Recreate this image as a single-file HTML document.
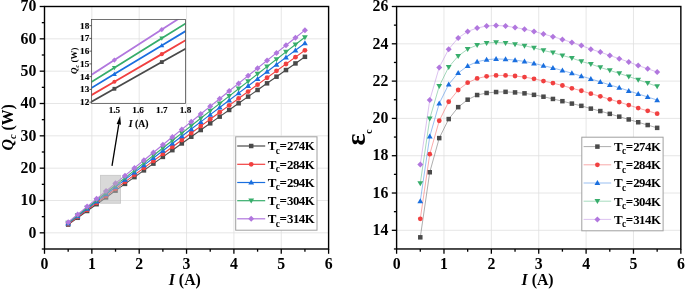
<!DOCTYPE html><html><head><meta charset="utf-8"><title>plot</title><style>html,body{margin:0;padding:0;background:#fff}svg{display:block}</style></head><body><svg width="685" height="290" viewBox="0 0 685 290">
<style>text{font-family:"Liberation Serif", "DejaVu Serif", serif;font-weight:bold;fill:#000}.tk{font-size:15.8px}.lg{font-size:13px;letter-spacing:-0.32px}.in{font-size:9.2px;stroke:#000;stroke-width:0.15px}</style>
<rect width="685" height="290" fill="#fff"/>
<line x1="91.85" x2="91.85" y1="6.5" y2="249.0" stroke="#dfdfdf" stroke-width="0.8"/>
<line x1="139.20" x2="139.20" y1="6.5" y2="249.0" stroke="#dfdfdf" stroke-width="0.8"/>
<line x1="186.55" x2="186.55" y1="6.5" y2="249.0" stroke="#dfdfdf" stroke-width="0.8"/>
<line x1="233.90" x2="233.90" y1="6.5" y2="249.0" stroke="#dfdfdf" stroke-width="0.8"/>
<line x1="281.25" x2="281.25" y1="6.5" y2="249.0" stroke="#dfdfdf" stroke-width="0.8"/>
<line y1="232.83" y2="232.83" x1="44.5" x2="328.6" stroke="#dfdfdf" stroke-width="0.8"/>
<line y1="200.50" y2="200.50" x1="44.5" x2="328.6" stroke="#dfdfdf" stroke-width="0.8"/>
<line y1="168.17" y2="168.17" x1="44.5" x2="328.6" stroke="#dfdfdf" stroke-width="0.8"/>
<line y1="135.83" y2="135.83" x1="44.5" x2="328.6" stroke="#dfdfdf" stroke-width="0.8"/>
<line y1="103.50" y2="103.50" x1="44.5" x2="328.6" stroke="#dfdfdf" stroke-width="0.8"/>
<line y1="71.17" y2="71.17" x1="44.5" x2="328.6" stroke="#dfdfdf" stroke-width="0.8"/>
<line y1="38.83" y2="38.83" x1="44.5" x2="328.6" stroke="#dfdfdf" stroke-width="0.8"/>
<polyline points="68.17,224.58 77.64,217.78 87.12,210.98 96.59,204.19 106.06,197.41 115.53,190.64 125.00,183.87 134.47,177.12 143.94,170.37 153.41,163.62 162.88,156.89 172.35,150.16 181.82,143.44 191.28,136.73 200.76,130.03 210.22,123.33 219.70,116.65 229.17,109.97 238.63,103.29 248.11,96.63 257.58,89.97 267.05,83.32 276.51,76.68 285.99,70.05 295.46,63.42 304.93,56.81" fill="none" stroke="#4a4a4a" stroke-width="1.15"/>
<rect x="65.92" y="222.33" width="4.50" height="4.50" fill="#4a4a4a"/>
<rect x="75.39" y="215.53" width="4.50" height="4.50" fill="#4a4a4a"/>
<rect x="84.87" y="208.73" width="4.50" height="4.50" fill="#4a4a4a"/>
<rect x="94.34" y="201.94" width="4.50" height="4.50" fill="#4a4a4a"/>
<rect x="103.81" y="195.16" width="4.50" height="4.50" fill="#4a4a4a"/>
<rect x="113.28" y="188.39" width="4.50" height="4.50" fill="#4a4a4a"/>
<rect x="122.75" y="181.62" width="4.50" height="4.50" fill="#4a4a4a"/>
<rect x="132.22" y="174.87" width="4.50" height="4.50" fill="#4a4a4a"/>
<rect x="141.69" y="168.12" width="4.50" height="4.50" fill="#4a4a4a"/>
<rect x="151.16" y="161.37" width="4.50" height="4.50" fill="#4a4a4a"/>
<rect x="160.62" y="154.64" width="4.50" height="4.50" fill="#4a4a4a"/>
<rect x="170.10" y="147.91" width="4.50" height="4.50" fill="#4a4a4a"/>
<rect x="179.57" y="141.19" width="4.50" height="4.50" fill="#4a4a4a"/>
<rect x="189.03" y="134.48" width="4.50" height="4.50" fill="#4a4a4a"/>
<rect x="198.51" y="127.78" width="4.50" height="4.50" fill="#4a4a4a"/>
<rect x="207.97" y="121.08" width="4.50" height="4.50" fill="#4a4a4a"/>
<rect x="217.45" y="114.40" width="4.50" height="4.50" fill="#4a4a4a"/>
<rect x="226.92" y="107.72" width="4.50" height="4.50" fill="#4a4a4a"/>
<rect x="236.38" y="101.04" width="4.50" height="4.50" fill="#4a4a4a"/>
<rect x="245.86" y="94.38" width="4.50" height="4.50" fill="#4a4a4a"/>
<rect x="255.33" y="87.72" width="4.50" height="4.50" fill="#4a4a4a"/>
<rect x="264.80" y="81.07" width="4.50" height="4.50" fill="#4a4a4a"/>
<rect x="274.26" y="74.43" width="4.50" height="4.50" fill="#4a4a4a"/>
<rect x="283.74" y="67.80" width="4.50" height="4.50" fill="#4a4a4a"/>
<rect x="293.21" y="61.17" width="4.50" height="4.50" fill="#4a4a4a"/>
<rect x="302.68" y="54.56" width="4.50" height="4.50" fill="#4a4a4a"/>
<polyline points="68.17,223.99 77.64,216.95 87.12,209.91 96.59,202.89 106.06,195.87 115.53,188.86 125.00,181.86 134.47,174.86 143.94,167.88 153.41,160.90 162.88,153.92 172.35,146.96 181.82,140.00 191.28,133.06 200.76,126.11 210.22,119.18 219.70,112.26 229.17,105.34 238.63,98.43 248.11,91.53 257.58,84.63 267.05,77.75 276.51,70.87 285.99,64.00 295.46,57.13 304.93,50.28" fill="none" stroke="#F14040" stroke-width="1.15"/>
<circle cx="68.17" cy="223.99" r="2.40" fill="#F14040"/>
<circle cx="77.64" cy="216.95" r="2.40" fill="#F14040"/>
<circle cx="87.12" cy="209.91" r="2.40" fill="#F14040"/>
<circle cx="96.59" cy="202.89" r="2.40" fill="#F14040"/>
<circle cx="106.06" cy="195.87" r="2.40" fill="#F14040"/>
<circle cx="115.53" cy="188.86" r="2.40" fill="#F14040"/>
<circle cx="125.00" cy="181.86" r="2.40" fill="#F14040"/>
<circle cx="134.47" cy="174.86" r="2.40" fill="#F14040"/>
<circle cx="143.94" cy="167.88" r="2.40" fill="#F14040"/>
<circle cx="153.41" cy="160.90" r="2.40" fill="#F14040"/>
<circle cx="162.88" cy="153.92" r="2.40" fill="#F14040"/>
<circle cx="172.35" cy="146.96" r="2.40" fill="#F14040"/>
<circle cx="181.82" cy="140.00" r="2.40" fill="#F14040"/>
<circle cx="191.28" cy="133.06" r="2.40" fill="#F14040"/>
<circle cx="200.76" cy="126.11" r="2.40" fill="#F14040"/>
<circle cx="210.22" cy="119.18" r="2.40" fill="#F14040"/>
<circle cx="219.70" cy="112.26" r="2.40" fill="#F14040"/>
<circle cx="229.17" cy="105.34" r="2.40" fill="#F14040"/>
<circle cx="238.63" cy="98.43" r="2.40" fill="#F14040"/>
<circle cx="248.11" cy="91.53" r="2.40" fill="#F14040"/>
<circle cx="257.58" cy="84.63" r="2.40" fill="#F14040"/>
<circle cx="267.05" cy="77.75" r="2.40" fill="#F14040"/>
<circle cx="276.51" cy="70.87" r="2.40" fill="#F14040"/>
<circle cx="285.99" cy="64.00" r="2.40" fill="#F14040"/>
<circle cx="295.46" cy="57.13" r="2.40" fill="#F14040"/>
<circle cx="304.93" cy="50.28" r="2.40" fill="#F14040"/>
<polyline points="68.17,223.34 77.64,216.04 87.12,208.75 96.59,201.47 106.06,194.19 115.53,186.92 125.00,179.66 134.47,172.40 143.94,165.16 153.41,157.92 162.88,150.69 172.35,143.47 181.82,136.25 191.28,129.05 200.76,121.85 210.22,114.66 219.70,107.47 229.17,100.30 238.63,93.13 248.11,85.97 257.58,78.81 267.05,71.67 276.51,64.53 285.99,57.40 295.46,50.28 304.93,43.17" fill="none" stroke="#1A6FDF" stroke-width="1.15"/>
<path d="M65.27 225.44L71.08 225.44L68.17 220.44Z" fill="#1A6FDF"/>
<path d="M74.74 218.14L80.55 218.14L77.64 213.14Z" fill="#1A6FDF"/>
<path d="M84.22 210.85L90.02 210.85L87.12 205.85Z" fill="#1A6FDF"/>
<path d="M93.69 203.57L99.49 203.57L96.59 198.57Z" fill="#1A6FDF"/>
<path d="M103.16 196.29L108.96 196.29L106.06 191.29Z" fill="#1A6FDF"/>
<path d="M112.62 189.02L118.43 189.02L115.53 184.02Z" fill="#1A6FDF"/>
<path d="M122.09 181.76L127.90 181.76L125.00 176.76Z" fill="#1A6FDF"/>
<path d="M131.56 174.50L137.37 174.50L134.47 169.50Z" fill="#1A6FDF"/>
<path d="M141.03 167.26L146.84 167.26L143.94 162.26Z" fill="#1A6FDF"/>
<path d="M150.50 160.02L156.31 160.02L153.41 155.02Z" fill="#1A6FDF"/>
<path d="M159.97 152.79L165.78 152.79L162.88 147.79Z" fill="#1A6FDF"/>
<path d="M169.45 145.57L175.25 145.57L172.35 140.57Z" fill="#1A6FDF"/>
<path d="M178.92 138.35L184.72 138.35L181.82 133.35Z" fill="#1A6FDF"/>
<path d="M188.38 131.15L194.19 131.15L191.28 126.15Z" fill="#1A6FDF"/>
<path d="M197.86 123.95L203.66 123.95L200.76 118.95Z" fill="#1A6FDF"/>
<path d="M207.32 116.75L213.12 116.75L210.22 111.75Z" fill="#1A6FDF"/>
<path d="M216.80 109.57L222.60 109.57L219.70 104.57Z" fill="#1A6FDF"/>
<path d="M226.27 102.40L232.07 102.40L229.17 97.40Z" fill="#1A6FDF"/>
<path d="M235.73 95.23L241.53 95.23L238.63 90.23Z" fill="#1A6FDF"/>
<path d="M245.21 88.07L251.01 88.07L248.11 83.07Z" fill="#1A6FDF"/>
<path d="M254.68 80.91L260.48 80.91L257.58 75.91Z" fill="#1A6FDF"/>
<path d="M264.15 73.77L269.94 73.77L267.05 68.77Z" fill="#1A6FDF"/>
<path d="M273.62 66.63L279.41 66.63L276.51 61.63Z" fill="#1A6FDF"/>
<path d="M283.09 59.50L288.88 59.50L285.99 54.50Z" fill="#1A6FDF"/>
<path d="M292.56 52.38L298.36 52.38L295.46 47.38Z" fill="#1A6FDF"/>
<path d="M302.03 45.27L307.82 45.27L304.93 40.27Z" fill="#1A6FDF"/>
<polyline points="68.17,222.81 77.64,215.29 87.12,207.78 96.59,200.28 106.06,192.79 115.53,185.30 125.00,177.83 134.47,170.36 143.94,162.90 153.41,155.44 162.88,148.00 172.35,140.56 181.82,133.13 191.28,125.71 200.76,118.29 210.22,110.89 219.70,103.49 229.17,96.10 238.63,88.71 248.11,81.34 257.58,73.97 267.05,66.61 276.51,59.26 285.99,51.91 295.46,44.57 304.93,37.24" fill="none" stroke="#37AD6B" stroke-width="1.15"/>
<path d="M65.27 220.71L71.08 220.71L68.17 225.71Z" fill="#37AD6B"/>
<path d="M74.74 213.19L80.55 213.19L77.64 218.19Z" fill="#37AD6B"/>
<path d="M84.22 205.68L90.02 205.68L87.12 210.68Z" fill="#37AD6B"/>
<path d="M93.69 198.18L99.49 198.18L96.59 203.18Z" fill="#37AD6B"/>
<path d="M103.16 190.69L108.96 190.69L106.06 195.69Z" fill="#37AD6B"/>
<path d="M112.62 183.20L118.43 183.20L115.53 188.20Z" fill="#37AD6B"/>
<path d="M122.09 175.73L127.90 175.73L125.00 180.73Z" fill="#37AD6B"/>
<path d="M131.56 168.26L137.37 168.26L134.47 173.26Z" fill="#37AD6B"/>
<path d="M141.03 160.80L146.84 160.80L143.94 165.80Z" fill="#37AD6B"/>
<path d="M150.50 153.34L156.31 153.34L153.41 158.34Z" fill="#37AD6B"/>
<path d="M159.97 145.90L165.78 145.90L162.88 150.90Z" fill="#37AD6B"/>
<path d="M169.45 138.46L175.25 138.46L172.35 143.46Z" fill="#37AD6B"/>
<path d="M178.92 131.03L184.72 131.03L181.82 136.03Z" fill="#37AD6B"/>
<path d="M188.38 123.61L194.19 123.61L191.28 128.61Z" fill="#37AD6B"/>
<path d="M197.86 116.19L203.66 116.19L200.76 121.19Z" fill="#37AD6B"/>
<path d="M207.32 108.79L213.12 108.79L210.22 113.79Z" fill="#37AD6B"/>
<path d="M216.80 101.39L222.60 101.39L219.70 106.39Z" fill="#37AD6B"/>
<path d="M226.27 94.00L232.07 94.00L229.17 99.00Z" fill="#37AD6B"/>
<path d="M235.73 86.61L241.53 86.61L238.63 91.61Z" fill="#37AD6B"/>
<path d="M245.21 79.24L251.01 79.24L248.11 84.24Z" fill="#37AD6B"/>
<path d="M254.68 71.87L260.48 71.87L257.58 76.87Z" fill="#37AD6B"/>
<path d="M264.15 64.51L269.94 64.51L267.05 69.51Z" fill="#37AD6B"/>
<path d="M273.62 57.16L279.41 57.16L276.51 62.16Z" fill="#37AD6B"/>
<path d="M283.09 49.81L288.88 49.81L285.99 54.81Z" fill="#37AD6B"/>
<path d="M292.56 42.47L298.36 42.47L295.46 47.47Z" fill="#37AD6B"/>
<path d="M302.03 35.14L307.82 35.14L304.93 40.14Z" fill="#37AD6B"/>
<polyline points="68.17,222.16 77.64,214.38 87.12,206.62 96.59,198.86 106.06,191.11 115.53,183.36 125.00,175.63 134.47,167.90 143.94,160.18 153.41,152.47 162.88,144.77 172.35,137.07 181.82,129.38 191.28,121.70 200.76,114.03 210.22,106.36 219.70,98.70 229.17,91.05 238.63,83.41 248.11,75.78 257.58,68.15 267.05,60.53 276.51,52.92 285.99,45.31 295.46,37.72 304.93,30.13" fill="none" stroke="#B177DE" stroke-width="1.15"/>
<path d="M65.17 222.16L68.17 219.16L71.17 222.16L68.17 225.16Z" fill="#B177DE"/>
<path d="M74.64 214.38L77.64 211.38L80.64 214.38L77.64 217.38Z" fill="#B177DE"/>
<path d="M84.12 206.62L87.12 203.62L90.12 206.62L87.12 209.62Z" fill="#B177DE"/>
<path d="M93.59 198.86L96.59 195.86L99.59 198.86L96.59 201.86Z" fill="#B177DE"/>
<path d="M103.06 191.11L106.06 188.11L109.06 191.11L106.06 194.11Z" fill="#B177DE"/>
<path d="M112.53 183.36L115.53 180.36L118.53 183.36L115.53 186.36Z" fill="#B177DE"/>
<path d="M122.00 175.63L125.00 172.63L128.00 175.63L125.00 178.63Z" fill="#B177DE"/>
<path d="M131.47 167.90L134.47 164.90L137.47 167.90L134.47 170.90Z" fill="#B177DE"/>
<path d="M140.94 160.18L143.94 157.18L146.94 160.18L143.94 163.18Z" fill="#B177DE"/>
<path d="M150.41 152.47L153.41 149.47L156.41 152.47L153.41 155.47Z" fill="#B177DE"/>
<path d="M159.88 144.77L162.88 141.77L165.88 144.77L162.88 147.77Z" fill="#B177DE"/>
<path d="M169.35 137.07L172.35 134.07L175.35 137.07L172.35 140.07Z" fill="#B177DE"/>
<path d="M178.82 129.38L181.82 126.38L184.82 129.38L181.82 132.38Z" fill="#B177DE"/>
<path d="M188.28 121.70L191.28 118.70L194.28 121.70L191.28 124.70Z" fill="#B177DE"/>
<path d="M197.76 114.03L200.76 111.03L203.76 114.03L200.76 117.03Z" fill="#B177DE"/>
<path d="M207.22 106.36L210.22 103.36L213.22 106.36L210.22 109.36Z" fill="#B177DE"/>
<path d="M216.70 98.70L219.70 95.70L222.70 98.70L219.70 101.70Z" fill="#B177DE"/>
<path d="M226.17 91.05L229.17 88.05L232.17 91.05L229.17 94.05Z" fill="#B177DE"/>
<path d="M235.63 83.41L238.63 80.41L241.63 83.41L238.63 86.41Z" fill="#B177DE"/>
<path d="M245.11 75.78L248.11 72.78L251.11 75.78L248.11 78.78Z" fill="#B177DE"/>
<path d="M254.58 68.15L257.58 65.15L260.58 68.15L257.58 71.15Z" fill="#B177DE"/>
<path d="M264.05 60.53L267.05 57.53L270.05 60.53L267.05 63.53Z" fill="#B177DE"/>
<path d="M273.51 52.92L276.51 49.92L279.51 52.92L276.51 55.92Z" fill="#B177DE"/>
<path d="M282.99 45.31L285.99 42.31L288.99 45.31L285.99 48.31Z" fill="#B177DE"/>
<path d="M292.46 37.72L295.46 34.72L298.46 37.72L295.46 40.72Z" fill="#B177DE"/>
<path d="M301.93 30.13L304.93 27.13L307.93 30.13L304.93 33.13Z" fill="#B177DE"/>
<rect x="100.4" y="175.3" width="20.2" height="28" fill="#b4b4b4" fill-opacity="0.5" stroke="#b0b0b0" stroke-opacity="0.6" stroke-width="0.8"/>
<line x1="112.0" y1="165.8" x2="118.78" y2="124.29" stroke="#000" stroke-width="1.3"/>
<path d="M120.15 115.9L120.95 124.64L116.61 123.93Z" fill="#000"/>
<clipPath id="ic"><rect x="91.5" y="19.45" width="94.00" height="83.90"/></clipPath>
<g clip-path="url(#ic)">
<polyline points="67.00,115.48 114.40,88.77 161.80,62.09 209.20,35.44" fill="none" stroke="#4a4a4a" stroke-width="1.8"/>
<rect x="112.49" y="86.86" width="3.82" height="3.82" fill="#4a4a4a"/>
<rect x="159.89" y="60.18" width="3.82" height="3.82" fill="#4a4a4a"/>
<polyline points="67.00,109.39 114.40,81.75 161.80,54.14 209.20,26.55" fill="none" stroke="#F14040" stroke-width="1.8"/>
<circle cx="114.40" cy="81.75" r="2.04" fill="#F14040"/>
<circle cx="161.80" cy="54.14" r="2.04" fill="#F14040"/>
<polyline points="67.00,102.76 114.40,74.10 161.80,45.47 209.20,16.86" fill="none" stroke="#1A6FDF" stroke-width="1.8"/>
<path d="M111.94 75.89L116.87 75.89L114.40 71.64Z" fill="#1A6FDF"/>
<path d="M159.34 47.25L164.27 47.25L161.80 43.00Z" fill="#1A6FDF"/>
<polyline points="67.00,97.25 114.40,67.73 161.80,38.25 209.20,8.80" fill="none" stroke="#37AD6B" stroke-width="1.8"/>
<path d="M111.94 65.95L116.87 65.95L114.40 70.20Z" fill="#37AD6B"/>
<path d="M159.34 36.46L164.27 36.46L161.80 40.71Z" fill="#37AD6B"/>
<polyline points="67.00,90.62 114.40,60.08 161.80,29.58 209.20,-0.89" fill="none" stroke="#B177DE" stroke-width="1.8"/>
<path d="M111.85 60.08L114.40 57.53L116.95 60.08L114.40 62.63Z" fill="#B177DE"/>
<path d="M159.25 29.58L161.80 27.03L164.35 29.58L161.80 32.13Z" fill="#B177DE"/>
</g>
<rect x="91.5" y="19.45" width="94.00" height="83.90" fill="none" stroke="#505050" stroke-width="0.8"/>
<line x1="89.5" x2="91.5" y1="102.15" y2="102.15" stroke="#333" stroke-width="0.8"/>
<text x="89.30" y="105.15" text-anchor="end" class="in">12</text>
<line x1="89.5" x2="91.5" y1="89.40" y2="89.40" stroke="#333" stroke-width="0.8"/>
<text x="89.30" y="92.40" text-anchor="end" class="in">13</text>
<line x1="89.5" x2="91.5" y1="76.65" y2="76.65" stroke="#333" stroke-width="0.8"/>
<text x="89.30" y="79.65" text-anchor="end" class="in">14</text>
<line x1="89.5" x2="91.5" y1="63.90" y2="63.90" stroke="#333" stroke-width="0.8"/>
<text x="89.30" y="66.90" text-anchor="end" class="in">15</text>
<line x1="89.5" x2="91.5" y1="51.15" y2="51.15" stroke="#333" stroke-width="0.8"/>
<text x="89.30" y="54.15" text-anchor="end" class="in">16</text>
<line x1="89.5" x2="91.5" y1="38.40" y2="38.40" stroke="#333" stroke-width="0.8"/>
<text x="89.30" y="41.40" text-anchor="end" class="in">17</text>
<line x1="89.5" x2="91.5" y1="25.65" y2="25.65" stroke="#333" stroke-width="0.8"/>
<text x="89.30" y="28.65" text-anchor="end" class="in">18</text>
<text x="114.40" y="112.9" text-anchor="middle" class="in">1.5</text>
<text x="138.10" y="112.9" text-anchor="middle" class="in">1.6</text>
<text x="161.80" y="112.9" text-anchor="middle" class="in">1.7</text>
<text x="185.50" y="112.9" text-anchor="middle" class="in">1.8</text>
<text x="138.6" y="127.4" text-anchor="middle" class="in" style="font-size:9.7px"><tspan font-style="italic">I</tspan> (A)</text>
<text transform="translate(77.4,60.8) rotate(-90)" text-anchor="middle" class="in" style="font-size:9px;stroke-width:0"><tspan font-style="italic">Q</tspan><tspan font-style="italic" dy="1.8" font-size="6">c</tspan><tspan dy="-1.8"> (W)</tspan></text>
<rect x="44.5" y="6.5" width="284.10" height="242.50" fill="none" stroke="#000" stroke-width="1.4"/>
<line x1="44.50" x2="44.50" y1="249.0" y2="253.8" stroke="#000" stroke-width="1.3"/>
<text x="44.50" y="269.30" text-anchor="middle" class="tk">0</text>
<line x1="91.85" x2="91.85" y1="249.0" y2="253.8" stroke="#000" stroke-width="1.3"/>
<text x="91.85" y="269.30" text-anchor="middle" class="tk">1</text>
<line x1="139.20" x2="139.20" y1="249.0" y2="253.8" stroke="#000" stroke-width="1.3"/>
<text x="139.20" y="269.30" text-anchor="middle" class="tk">2</text>
<line x1="186.55" x2="186.55" y1="249.0" y2="253.8" stroke="#000" stroke-width="1.3"/>
<text x="186.55" y="269.30" text-anchor="middle" class="tk">3</text>
<line x1="233.90" x2="233.90" y1="249.0" y2="253.8" stroke="#000" stroke-width="1.3"/>
<text x="233.90" y="269.30" text-anchor="middle" class="tk">4</text>
<line x1="281.25" x2="281.25" y1="249.0" y2="253.8" stroke="#000" stroke-width="1.3"/>
<text x="281.25" y="269.30" text-anchor="middle" class="tk">5</text>
<line x1="328.60" x2="328.60" y1="249.0" y2="253.8" stroke="#000" stroke-width="1.3"/>
<text x="328.60" y="269.30" text-anchor="middle" class="tk">6</text>
<line x1="68.17" x2="68.17" y1="249.0" y2="251.7" stroke="#000" stroke-width="1.3"/>
<line x1="115.53" x2="115.53" y1="249.0" y2="251.7" stroke="#000" stroke-width="1.3"/>
<line x1="162.88" x2="162.88" y1="249.0" y2="251.7" stroke="#000" stroke-width="1.3"/>
<line x1="210.22" x2="210.22" y1="249.0" y2="251.7" stroke="#000" stroke-width="1.3"/>
<line x1="257.58" x2="257.58" y1="249.0" y2="251.7" stroke="#000" stroke-width="1.3"/>
<line x1="304.93" x2="304.93" y1="249.0" y2="251.7" stroke="#000" stroke-width="1.3"/>
<line y1="232.83" y2="232.83" x1="39.7" x2="44.5" stroke="#000" stroke-width="1.3"/>
<text x="36.3" y="237.53" text-anchor="end" class="tk">0</text>
<line y1="200.50" y2="200.50" x1="39.7" x2="44.5" stroke="#000" stroke-width="1.3"/>
<text x="36.3" y="205.20" text-anchor="end" class="tk">10</text>
<line y1="168.17" y2="168.17" x1="39.7" x2="44.5" stroke="#000" stroke-width="1.3"/>
<text x="36.3" y="172.87" text-anchor="end" class="tk">20</text>
<line y1="135.83" y2="135.83" x1="39.7" x2="44.5" stroke="#000" stroke-width="1.3"/>
<text x="36.3" y="140.53" text-anchor="end" class="tk">30</text>
<line y1="103.50" y2="103.50" x1="39.7" x2="44.5" stroke="#000" stroke-width="1.3"/>
<text x="36.3" y="108.20" text-anchor="end" class="tk">40</text>
<line y1="71.17" y2="71.17" x1="39.7" x2="44.5" stroke="#000" stroke-width="1.3"/>
<text x="36.3" y="75.87" text-anchor="end" class="tk">50</text>
<line y1="38.83" y2="38.83" x1="39.7" x2="44.5" stroke="#000" stroke-width="1.3"/>
<text x="36.3" y="43.53" text-anchor="end" class="tk">60</text>
<line y1="6.50" y2="6.50" x1="39.7" x2="44.5" stroke="#000" stroke-width="1.3"/>
<text x="36.3" y="11.20" text-anchor="end" class="tk">70</text>
<line y1="249.00" y2="249.00" x1="41.8" x2="44.5" stroke="#000" stroke-width="1.3"/>
<line y1="216.67" y2="216.67" x1="41.8" x2="44.5" stroke="#000" stroke-width="1.3"/>
<line y1="184.33" y2="184.33" x1="41.8" x2="44.5" stroke="#000" stroke-width="1.3"/>
<line y1="152.00" y2="152.00" x1="41.8" x2="44.5" stroke="#000" stroke-width="1.3"/>
<line y1="119.67" y2="119.67" x1="41.8" x2="44.5" stroke="#000" stroke-width="1.3"/>
<line y1="87.33" y2="87.33" x1="41.8" x2="44.5" stroke="#000" stroke-width="1.3"/>
<line y1="55.00" y2="55.00" x1="41.8" x2="44.5" stroke="#000" stroke-width="1.3"/>
<line y1="22.67" y2="22.67" x1="41.8" x2="44.5" stroke="#000" stroke-width="1.3"/>
<text x="184.8" y="285.1" text-anchor="middle" font-size="15.8"><tspan font-style="italic">I</tspan> (A)</text>
<text transform="translate(13.0,127.3) rotate(-90)" text-anchor="middle" font-size="15.8"><tspan font-style="italic">Q</tspan><tspan font-style="italic" dy="3" font-size="10.5">c</tspan><tspan dy="-3"> (W)</tspan></text>
<rect x="235.7" y="136.8" width="81.3" height="93.4" fill="#fff" stroke="#a0a0a0" stroke-width="1"/>
<line x1="237.2" x2="265.2" y1="146.0" y2="146.0" stroke="#4a4a4a" stroke-width="1.2"/>
<rect x="248.95" y="143.75" width="4.50" height="4.50" fill="#4a4a4a"/>
<text x="267.8" y="150.30" class="lg">T<tspan dx="-0.3" dy="3.5" font-size="9.3">c</tspan><tspan dx="-0.1" dy="-3.5">=</tspan><tspan dx="0.3" style="font-size:12.8px;letter-spacing:-0.45px">274K</tspan></text>
<line x1="237.2" x2="265.2" y1="164.3" y2="164.3" stroke="#F14040" stroke-width="1.2"/>
<circle cx="251.20" cy="164.30" r="2.40" fill="#F14040"/>
<text x="267.8" y="168.60" class="lg">T<tspan dx="-0.3" dy="3.5" font-size="9.3">c</tspan><tspan dx="-0.1" dy="-3.5">=</tspan><tspan dx="0.3" style="font-size:12.8px;letter-spacing:-0.45px">284K</tspan></text>
<line x1="237.2" x2="265.2" y1="182.5" y2="182.5" stroke="#1A6FDF" stroke-width="1.2"/>
<path d="M248.30 184.60L254.10 184.60L251.20 179.60Z" fill="#1A6FDF"/>
<text x="267.8" y="186.80" class="lg">T<tspan dx="-0.3" dy="3.5" font-size="9.3">c</tspan><tspan dx="-0.1" dy="-3.5">=</tspan><tspan dx="0.3" style="font-size:12.8px;letter-spacing:-0.45px">294K</tspan></text>
<line x1="237.2" x2="265.2" y1="200.7" y2="200.7" stroke="#37AD6B" stroke-width="1.2"/>
<path d="M248.30 198.60L254.10 198.60L251.20 203.60Z" fill="#37AD6B"/>
<text x="267.8" y="205.00" class="lg">T<tspan dx="-0.3" dy="3.5" font-size="9.3">c</tspan><tspan dx="-0.1" dy="-3.5">=</tspan><tspan dx="0.3" style="font-size:12.8px;letter-spacing:-0.45px">304K</tspan></text>
<line x1="237.2" x2="265.2" y1="218.8" y2="218.8" stroke="#B177DE" stroke-width="1.2"/>
<path d="M248.20 218.80L251.20 215.80L254.20 218.80L251.20 221.80Z" fill="#B177DE"/>
<text x="267.8" y="223.10" class="lg">T<tspan dx="-0.3" dy="3.5" font-size="9.3">c</tspan><tspan dx="-0.1" dy="-3.5">=</tspan><tspan dx="0.3" style="font-size:12.8px;letter-spacing:-0.45px">314K</tspan></text>
<line x1="443.98" x2="443.98" y1="6.5" y2="248.97" stroke="#dfdfdf" stroke-width="0.8"/>
<line x1="491.35" x2="491.35" y1="6.5" y2="248.97" stroke="#dfdfdf" stroke-width="0.8"/>
<line x1="538.73" x2="538.73" y1="6.5" y2="248.97" stroke="#dfdfdf" stroke-width="0.8"/>
<line x1="586.10" x2="586.10" y1="6.5" y2="248.97" stroke="#dfdfdf" stroke-width="0.8"/>
<line x1="633.48" x2="633.48" y1="6.5" y2="248.97" stroke="#dfdfdf" stroke-width="0.8"/>
<line y1="230.32" y2="230.32" x1="396.6" x2="680.85" stroke="#dfdfdf" stroke-width="0.8"/>
<line y1="193.02" y2="193.02" x1="396.6" x2="680.85" stroke="#dfdfdf" stroke-width="0.8"/>
<line y1="155.71" y2="155.71" x1="396.6" x2="680.85" stroke="#dfdfdf" stroke-width="0.8"/>
<line y1="118.41" y2="118.41" x1="396.6" x2="680.85" stroke="#dfdfdf" stroke-width="0.8"/>
<line y1="81.11" y2="81.11" x1="396.6" x2="680.85" stroke="#dfdfdf" stroke-width="0.8"/>
<line y1="43.80" y2="43.80" x1="396.6" x2="680.85" stroke="#dfdfdf" stroke-width="0.8"/>
<polyline points="420.29,237.33 429.76,172.24 439.24,138.11 448.71,119.08 458.19,107.14 467.66,99.68 477.14,95.02 486.61,92.97 496.09,92.04 505.56,91.85 515.04,92.41 524.51,93.34 533.99,94.83 543.46,96.70 552.94,98.94 562.41,101.18 571.89,103.60 581.36,105.84 590.84,108.64 600.31,111.06 609.79,113.86 619.26,116.66 628.74,119.45 638.21,122.25 647.69,125.05 657.16,127.85" fill="none" stroke="#4a4a4a" stroke-width="0.45"/>
<rect x="418.04" y="235.08" width="4.50" height="4.50" fill="#4a4a4a"/>
<rect x="427.51" y="169.99" width="4.50" height="4.50" fill="#4a4a4a"/>
<rect x="436.99" y="135.86" width="4.50" height="4.50" fill="#4a4a4a"/>
<rect x="446.46" y="116.83" width="4.50" height="4.50" fill="#4a4a4a"/>
<rect x="455.94" y="104.89" width="4.50" height="4.50" fill="#4a4a4a"/>
<rect x="465.41" y="97.43" width="4.50" height="4.50" fill="#4a4a4a"/>
<rect x="474.89" y="92.77" width="4.50" height="4.50" fill="#4a4a4a"/>
<rect x="484.36" y="90.72" width="4.50" height="4.50" fill="#4a4a4a"/>
<rect x="493.84" y="89.79" width="4.50" height="4.50" fill="#4a4a4a"/>
<rect x="503.31" y="89.60" width="4.50" height="4.50" fill="#4a4a4a"/>
<rect x="512.79" y="90.16" width="4.50" height="4.50" fill="#4a4a4a"/>
<rect x="522.26" y="91.09" width="4.50" height="4.50" fill="#4a4a4a"/>
<rect x="531.74" y="92.58" width="4.50" height="4.50" fill="#4a4a4a"/>
<rect x="541.21" y="94.45" width="4.50" height="4.50" fill="#4a4a4a"/>
<rect x="550.69" y="96.69" width="4.50" height="4.50" fill="#4a4a4a"/>
<rect x="560.16" y="98.93" width="4.50" height="4.50" fill="#4a4a4a"/>
<rect x="569.64" y="101.35" width="4.50" height="4.50" fill="#4a4a4a"/>
<rect x="579.11" y="103.59" width="4.50" height="4.50" fill="#4a4a4a"/>
<rect x="588.59" y="106.39" width="4.50" height="4.50" fill="#4a4a4a"/>
<rect x="598.06" y="108.81" width="4.50" height="4.50" fill="#4a4a4a"/>
<rect x="607.54" y="111.61" width="4.50" height="4.50" fill="#4a4a4a"/>
<rect x="617.01" y="114.41" width="4.50" height="4.50" fill="#4a4a4a"/>
<rect x="626.49" y="117.20" width="4.50" height="4.50" fill="#4a4a4a"/>
<rect x="635.96" y="120.00" width="4.50" height="4.50" fill="#4a4a4a"/>
<rect x="645.44" y="122.80" width="4.50" height="4.50" fill="#4a4a4a"/>
<rect x="654.91" y="125.60" width="4.50" height="4.50" fill="#4a4a4a"/>
<polyline points="420.29,218.87 429.76,154.15 439.24,120.76 448.71,101.73 458.19,89.98 467.66,82.71 477.14,78.42 486.61,76.37 496.09,75.44 505.56,75.44 515.04,76.00 524.51,77.11 533.99,78.79 543.46,81.03 552.94,83.08 562.41,85.51 571.89,88.31 581.36,90.73 590.84,93.71 600.31,96.33 609.79,99.31 619.26,102.11 628.74,105.09 638.21,108.08 647.69,110.87 657.16,113.67" fill="none" stroke="#F14040" stroke-width="0.45"/>
<circle cx="420.29" cy="218.87" r="2.40" fill="#F14040"/>
<circle cx="429.76" cy="154.15" r="2.40" fill="#F14040"/>
<circle cx="439.24" cy="120.76" r="2.40" fill="#F14040"/>
<circle cx="448.71" cy="101.73" r="2.40" fill="#F14040"/>
<circle cx="458.19" cy="89.98" r="2.40" fill="#F14040"/>
<circle cx="467.66" cy="82.71" r="2.40" fill="#F14040"/>
<circle cx="477.14" cy="78.42" r="2.40" fill="#F14040"/>
<circle cx="486.61" cy="76.37" r="2.40" fill="#F14040"/>
<circle cx="496.09" cy="75.44" r="2.40" fill="#F14040"/>
<circle cx="505.56" cy="75.44" r="2.40" fill="#F14040"/>
<circle cx="515.04" cy="76.00" r="2.40" fill="#F14040"/>
<circle cx="524.51" cy="77.11" r="2.40" fill="#F14040"/>
<circle cx="533.99" cy="78.79" r="2.40" fill="#F14040"/>
<circle cx="543.46" cy="81.03" r="2.40" fill="#F14040"/>
<circle cx="552.94" cy="83.08" r="2.40" fill="#F14040"/>
<circle cx="562.41" cy="85.51" r="2.40" fill="#F14040"/>
<circle cx="571.89" cy="88.31" r="2.40" fill="#F14040"/>
<circle cx="581.36" cy="90.73" r="2.40" fill="#F14040"/>
<circle cx="590.84" cy="93.71" r="2.40" fill="#F14040"/>
<circle cx="600.31" cy="96.33" r="2.40" fill="#F14040"/>
<circle cx="609.79" cy="99.31" r="2.40" fill="#F14040"/>
<circle cx="619.26" cy="102.11" r="2.40" fill="#F14040"/>
<circle cx="628.74" cy="105.09" r="2.40" fill="#F14040"/>
<circle cx="638.21" cy="108.08" r="2.40" fill="#F14040"/>
<circle cx="647.69" cy="110.87" r="2.40" fill="#F14040"/>
<circle cx="657.16" cy="113.67" r="2.40" fill="#F14040"/>
<polyline points="420.29,201.05 429.76,136.43 439.24,103.41 448.71,84.39 458.19,73.01 467.66,65.92 477.14,61.73 486.61,59.68 496.09,58.93 505.56,59.21 515.04,60.14 524.51,61.45 533.99,63.31 543.46,65.74 552.94,67.88 562.41,70.49 571.89,73.20 581.36,76.09 590.84,78.89 600.31,81.87 609.79,84.86 619.26,87.75 628.74,90.82 638.21,93.90 647.69,96.98 657.16,100.06" fill="none" stroke="#1A6FDF" stroke-width="0.45"/>
<path d="M417.39 203.15L423.19 203.15L420.29 198.15Z" fill="#1A6FDF"/>
<path d="M426.86 138.53L432.66 138.53L429.76 133.53Z" fill="#1A6FDF"/>
<path d="M436.34 105.51L442.14 105.51L439.24 100.51Z" fill="#1A6FDF"/>
<path d="M445.81 86.49L451.61 86.49L448.71 81.49Z" fill="#1A6FDF"/>
<path d="M455.29 75.11L461.09 75.11L458.19 70.11Z" fill="#1A6FDF"/>
<path d="M464.76 68.02L470.56 68.02L467.66 63.02Z" fill="#1A6FDF"/>
<path d="M474.24 63.83L480.04 63.83L477.14 58.83Z" fill="#1A6FDF"/>
<path d="M483.71 61.78L489.51 61.78L486.61 56.78Z" fill="#1A6FDF"/>
<path d="M493.19 61.03L498.99 61.03L496.09 56.03Z" fill="#1A6FDF"/>
<path d="M502.66 61.31L508.46 61.31L505.56 56.31Z" fill="#1A6FDF"/>
<path d="M512.14 62.24L517.94 62.24L515.04 57.24Z" fill="#1A6FDF"/>
<path d="M521.61 63.55L527.41 63.55L524.51 58.55Z" fill="#1A6FDF"/>
<path d="M531.09 65.41L536.89 65.41L533.99 60.41Z" fill="#1A6FDF"/>
<path d="M540.56 67.84L546.36 67.84L543.46 62.84Z" fill="#1A6FDF"/>
<path d="M550.04 69.98L555.84 69.98L552.94 64.98Z" fill="#1A6FDF"/>
<path d="M559.51 72.59L565.31 72.59L562.41 67.59Z" fill="#1A6FDF"/>
<path d="M568.99 75.30L574.79 75.30L571.89 70.30Z" fill="#1A6FDF"/>
<path d="M578.46 78.19L584.26 78.19L581.36 73.19Z" fill="#1A6FDF"/>
<path d="M587.94 80.99L593.74 80.99L590.84 75.99Z" fill="#1A6FDF"/>
<path d="M597.41 83.97L603.21 83.97L600.31 78.97Z" fill="#1A6FDF"/>
<path d="M606.89 86.96L612.69 86.96L609.79 81.96Z" fill="#1A6FDF"/>
<path d="M616.36 89.85L622.16 89.85L619.26 84.85Z" fill="#1A6FDF"/>
<path d="M625.84 92.92L631.64 92.92L628.74 87.92Z" fill="#1A6FDF"/>
<path d="M635.31 96.00L641.11 96.00L638.21 91.00Z" fill="#1A6FDF"/>
<path d="M644.79 99.08L650.59 99.08L647.69 94.08Z" fill="#1A6FDF"/>
<path d="M654.26 102.16L660.06 102.16L657.16 97.16Z" fill="#1A6FDF"/>
<polyline points="420.29,183.24 429.76,118.71 439.24,86.07 448.71,67.04 458.19,56.04 467.66,49.14 477.14,45.03 486.61,42.98 496.09,42.42 505.56,42.98 515.04,44.29 524.51,45.78 533.99,47.83 543.46,50.44 552.94,52.68 562.41,55.48 571.89,58.09 581.36,61.45 590.84,64.06 600.31,67.42 609.79,70.40 619.26,73.38 628.74,76.56 638.21,79.73 647.69,83.08 657.16,86.44" fill="none" stroke="#37AD6B" stroke-width="0.45"/>
<path d="M417.39 181.14L423.19 181.14L420.29 186.14Z" fill="#37AD6B"/>
<path d="M426.86 116.61L432.66 116.61L429.76 121.61Z" fill="#37AD6B"/>
<path d="M436.34 83.97L442.14 83.97L439.24 88.97Z" fill="#37AD6B"/>
<path d="M445.81 64.94L451.61 64.94L448.71 69.94Z" fill="#37AD6B"/>
<path d="M455.29 53.94L461.09 53.94L458.19 58.94Z" fill="#37AD6B"/>
<path d="M464.76 47.04L470.56 47.04L467.66 52.04Z" fill="#37AD6B"/>
<path d="M474.24 42.93L480.04 42.93L477.14 47.93Z" fill="#37AD6B"/>
<path d="M483.71 40.88L489.51 40.88L486.61 45.88Z" fill="#37AD6B"/>
<path d="M493.19 40.32L498.99 40.32L496.09 45.32Z" fill="#37AD6B"/>
<path d="M502.66 40.88L508.46 40.88L505.56 45.88Z" fill="#37AD6B"/>
<path d="M512.14 42.19L517.94 42.19L515.04 47.19Z" fill="#37AD6B"/>
<path d="M521.61 43.68L527.41 43.68L524.51 48.68Z" fill="#37AD6B"/>
<path d="M531.09 45.73L536.89 45.73L533.99 50.73Z" fill="#37AD6B"/>
<path d="M540.56 48.34L546.36 48.34L543.46 53.34Z" fill="#37AD6B"/>
<path d="M550.04 50.58L555.84 50.58L552.94 55.58Z" fill="#37AD6B"/>
<path d="M559.51 53.38L565.31 53.38L562.41 58.38Z" fill="#37AD6B"/>
<path d="M568.99 55.99L574.79 55.99L571.89 60.99Z" fill="#37AD6B"/>
<path d="M578.46 59.35L584.26 59.35L581.36 64.35Z" fill="#37AD6B"/>
<path d="M587.94 61.96L593.74 61.96L590.84 66.96Z" fill="#37AD6B"/>
<path d="M597.41 65.32L603.21 65.32L600.31 70.32Z" fill="#37AD6B"/>
<path d="M606.89 68.30L612.69 68.30L609.79 73.30Z" fill="#37AD6B"/>
<path d="M616.36 71.28L622.16 71.28L619.26 76.28Z" fill="#37AD6B"/>
<path d="M625.84 74.46L631.64 74.46L628.74 79.46Z" fill="#37AD6B"/>
<path d="M635.31 77.63L641.11 77.63L638.21 82.63Z" fill="#37AD6B"/>
<path d="M644.79 80.98L650.59 80.98L647.69 85.98Z" fill="#37AD6B"/>
<path d="M654.26 84.34L660.06 84.34L657.16 89.34Z" fill="#37AD6B"/>
<polyline points="420.29,164.59 429.76,100.06 439.24,67.42 448.71,49.14 458.19,37.95 467.66,31.42 477.14,28.06 486.61,26.01 496.09,25.45 505.56,26.01 515.04,27.50 524.51,29.18 533.99,31.42 543.46,34.03 552.94,36.64 562.41,39.44 571.89,42.42 581.36,45.59 590.84,49.14 600.31,52.12 609.79,55.48 619.26,58.65 628.74,62.01 638.21,65.55 647.69,68.72 657.16,72.08" fill="none" stroke="#B177DE" stroke-width="0.45"/>
<path d="M417.29 164.59L420.29 161.59L423.29 164.59L420.29 167.59Z" fill="#B177DE"/>
<path d="M426.76 100.06L429.76 97.06L432.76 100.06L429.76 103.06Z" fill="#B177DE"/>
<path d="M436.24 67.42L439.24 64.42L442.24 67.42L439.24 70.42Z" fill="#B177DE"/>
<path d="M445.71 49.14L448.71 46.14L451.71 49.14L448.71 52.14Z" fill="#B177DE"/>
<path d="M455.19 37.95L458.19 34.95L461.19 37.95L458.19 40.95Z" fill="#B177DE"/>
<path d="M464.66 31.42L467.66 28.42L470.66 31.42L467.66 34.42Z" fill="#B177DE"/>
<path d="M474.14 28.06L477.14 25.06L480.14 28.06L477.14 31.06Z" fill="#B177DE"/>
<path d="M483.61 26.01L486.61 23.01L489.61 26.01L486.61 29.01Z" fill="#B177DE"/>
<path d="M493.09 25.45L496.09 22.45L499.09 25.45L496.09 28.45Z" fill="#B177DE"/>
<path d="M502.56 26.01L505.56 23.01L508.56 26.01L505.56 29.01Z" fill="#B177DE"/>
<path d="M512.04 27.50L515.04 24.50L518.04 27.50L515.04 30.50Z" fill="#B177DE"/>
<path d="M521.51 29.18L524.51 26.18L527.51 29.18L524.51 32.18Z" fill="#B177DE"/>
<path d="M530.99 31.42L533.99 28.42L536.99 31.42L533.99 34.42Z" fill="#B177DE"/>
<path d="M540.46 34.03L543.46 31.03L546.46 34.03L543.46 37.03Z" fill="#B177DE"/>
<path d="M549.94 36.64L552.94 33.64L555.94 36.64L552.94 39.64Z" fill="#B177DE"/>
<path d="M559.41 39.44L562.41 36.44L565.41 39.44L562.41 42.44Z" fill="#B177DE"/>
<path d="M568.89 42.42L571.89 39.42L574.89 42.42L571.89 45.42Z" fill="#B177DE"/>
<path d="M578.36 45.59L581.36 42.59L584.36 45.59L581.36 48.59Z" fill="#B177DE"/>
<path d="M587.84 49.14L590.84 46.14L593.84 49.14L590.84 52.14Z" fill="#B177DE"/>
<path d="M597.31 52.12L600.31 49.12L603.31 52.12L600.31 55.12Z" fill="#B177DE"/>
<path d="M606.79 55.48L609.79 52.48L612.79 55.48L609.79 58.48Z" fill="#B177DE"/>
<path d="M616.26 58.65L619.26 55.65L622.26 58.65L619.26 61.65Z" fill="#B177DE"/>
<path d="M625.74 62.01L628.74 59.01L631.74 62.01L628.74 65.01Z" fill="#B177DE"/>
<path d="M635.21 65.55L638.21 62.55L641.21 65.55L638.21 68.55Z" fill="#B177DE"/>
<path d="M644.69 68.72L647.69 65.72L650.69 68.72L647.69 71.72Z" fill="#B177DE"/>
<path d="M654.16 72.08L657.16 69.08L660.16 72.08L657.16 75.08Z" fill="#B177DE"/>
<rect x="396.6" y="6.5" width="284.25" height="242.47" fill="none" stroke="#000" stroke-width="1.4"/>
<line x1="396.60" x2="396.60" y1="248.97" y2="253.77" stroke="#000" stroke-width="1.3"/>
<text x="396.60" y="269.27" text-anchor="middle" class="tk">0</text>
<line x1="443.98" x2="443.98" y1="248.97" y2="253.77" stroke="#000" stroke-width="1.3"/>
<text x="443.98" y="269.27" text-anchor="middle" class="tk">1</text>
<line x1="491.35" x2="491.35" y1="248.97" y2="253.77" stroke="#000" stroke-width="1.3"/>
<text x="491.35" y="269.27" text-anchor="middle" class="tk">2</text>
<line x1="538.73" x2="538.73" y1="248.97" y2="253.77" stroke="#000" stroke-width="1.3"/>
<text x="538.73" y="269.27" text-anchor="middle" class="tk">3</text>
<line x1="586.10" x2="586.10" y1="248.97" y2="253.77" stroke="#000" stroke-width="1.3"/>
<text x="586.10" y="269.27" text-anchor="middle" class="tk">4</text>
<line x1="633.48" x2="633.48" y1="248.97" y2="253.77" stroke="#000" stroke-width="1.3"/>
<text x="633.48" y="269.27" text-anchor="middle" class="tk">5</text>
<line x1="680.85" x2="680.85" y1="248.97" y2="253.77" stroke="#000" stroke-width="1.3"/>
<text x="680.85" y="269.27" text-anchor="middle" class="tk">6</text>
<line x1="420.29" x2="420.29" y1="248.97" y2="251.67" stroke="#000" stroke-width="1.3"/>
<line x1="467.66" x2="467.66" y1="248.97" y2="251.67" stroke="#000" stroke-width="1.3"/>
<line x1="515.04" x2="515.04" y1="248.97" y2="251.67" stroke="#000" stroke-width="1.3"/>
<line x1="562.41" x2="562.41" y1="248.97" y2="251.67" stroke="#000" stroke-width="1.3"/>
<line x1="609.79" x2="609.79" y1="248.97" y2="251.67" stroke="#000" stroke-width="1.3"/>
<line x1="657.16" x2="657.16" y1="248.97" y2="251.67" stroke="#000" stroke-width="1.3"/>
<line y1="230.32" y2="230.32" x1="391.8" x2="396.6" stroke="#000" stroke-width="1.3"/>
<text x="388.4" y="235.02" text-anchor="end" class="tk">14</text>
<line y1="193.02" y2="193.02" x1="391.8" x2="396.6" stroke="#000" stroke-width="1.3"/>
<text x="388.4" y="197.72" text-anchor="end" class="tk">16</text>
<line y1="155.71" y2="155.71" x1="391.8" x2="396.6" stroke="#000" stroke-width="1.3"/>
<text x="388.4" y="160.41" text-anchor="end" class="tk">18</text>
<line y1="118.41" y2="118.41" x1="391.8" x2="396.6" stroke="#000" stroke-width="1.3"/>
<text x="388.4" y="123.11" text-anchor="end" class="tk">20</text>
<line y1="81.11" y2="81.11" x1="391.8" x2="396.6" stroke="#000" stroke-width="1.3"/>
<text x="388.4" y="85.81" text-anchor="end" class="tk">22</text>
<line y1="43.80" y2="43.80" x1="391.8" x2="396.6" stroke="#000" stroke-width="1.3"/>
<text x="388.4" y="48.50" text-anchor="end" class="tk">24</text>
<line y1="6.50" y2="6.50" x1="391.8" x2="396.6" stroke="#000" stroke-width="1.3"/>
<text x="388.4" y="11.20" text-anchor="end" class="tk">26</text>
<line y1="248.97" y2="248.97" x1="393.90000000000003" x2="396.6" stroke="#000" stroke-width="1.3"/>
<line y1="211.67" y2="211.67" x1="393.90000000000003" x2="396.6" stroke="#000" stroke-width="1.3"/>
<line y1="174.36" y2="174.36" x1="393.90000000000003" x2="396.6" stroke="#000" stroke-width="1.3"/>
<line y1="137.06" y2="137.06" x1="393.90000000000003" x2="396.6" stroke="#000" stroke-width="1.3"/>
<line y1="99.76" y2="99.76" x1="393.90000000000003" x2="396.6" stroke="#000" stroke-width="1.3"/>
<line y1="62.45" y2="62.45" x1="393.90000000000003" x2="396.6" stroke="#000" stroke-width="1.3"/>
<line y1="25.15" y2="25.15" x1="393.90000000000003" x2="396.6" stroke="#000" stroke-width="1.3"/>
<text x="537.6" y="285.1" text-anchor="middle" font-size="15.8"><tspan font-style="italic">I</tspan> (A)</text>
<text transform="translate(365,139.5) rotate(-90)" text-anchor="middle" font-size="28">ε</text>
<text transform="translate(372.3,131.6) rotate(-90)" text-anchor="middle" font-size="9.8">c</text>
<rect x="581.8" y="137.2" width="81.3" height="93.6" fill="#fff" stroke="#a0a0a0" stroke-width="1"/>
<line x1="583.6" x2="611.2" y1="146.6" y2="146.6" stroke="#4a4a4a" stroke-width="0.45"/>
<rect x="595.15" y="144.35" width="4.50" height="4.50" fill="#4a4a4a"/>
<text x="614.0" y="150.90" class="lg">T<tspan dx="-0.3" dy="3.5" font-size="9.3">c</tspan><tspan dx="-0.1" dy="-3.5">=</tspan><tspan dx="0.3" style="font-size:12.8px;letter-spacing:-0.45px">274K</tspan></text>
<line x1="583.6" x2="611.2" y1="164.8" y2="164.8" stroke="#F14040" stroke-width="0.45"/>
<circle cx="597.40" cy="164.80" r="2.40" fill="#F14040"/>
<text x="614.0" y="169.10" class="lg">T<tspan dx="-0.3" dy="3.5" font-size="9.3">c</tspan><tspan dx="-0.1" dy="-3.5">=</tspan><tspan dx="0.3" style="font-size:12.8px;letter-spacing:-0.45px">284K</tspan></text>
<line x1="583.6" x2="611.2" y1="183.0" y2="183.0" stroke="#1A6FDF" stroke-width="0.45"/>
<path d="M594.50 185.10L600.30 185.10L597.40 180.10Z" fill="#1A6FDF"/>
<text x="614.0" y="187.30" class="lg">T<tspan dx="-0.3" dy="3.5" font-size="9.3">c</tspan><tspan dx="-0.1" dy="-3.5">=</tspan><tspan dx="0.3" style="font-size:12.8px;letter-spacing:-0.45px">294K</tspan></text>
<line x1="583.6" x2="611.2" y1="201.2" y2="201.2" stroke="#37AD6B" stroke-width="0.45"/>
<path d="M594.50 199.10L600.30 199.10L597.40 204.10Z" fill="#37AD6B"/>
<text x="614.0" y="205.50" class="lg">T<tspan dx="-0.3" dy="3.5" font-size="9.3">c</tspan><tspan dx="-0.1" dy="-3.5">=</tspan><tspan dx="0.3" style="font-size:12.8px;letter-spacing:-0.45px">304K</tspan></text>
<line x1="583.6" x2="611.2" y1="219.4" y2="219.4" stroke="#B177DE" stroke-width="0.45"/>
<path d="M594.40 219.40L597.40 216.40L600.40 219.40L597.40 222.40Z" fill="#B177DE"/>
<text x="614.0" y="223.70" class="lg">T<tspan dx="-0.3" dy="3.5" font-size="9.3">c</tspan><tspan dx="-0.1" dy="-3.5">=</tspan><tspan dx="0.3" style="font-size:12.8px;letter-spacing:-0.45px">314K</tspan></text>
</svg></body></html>
